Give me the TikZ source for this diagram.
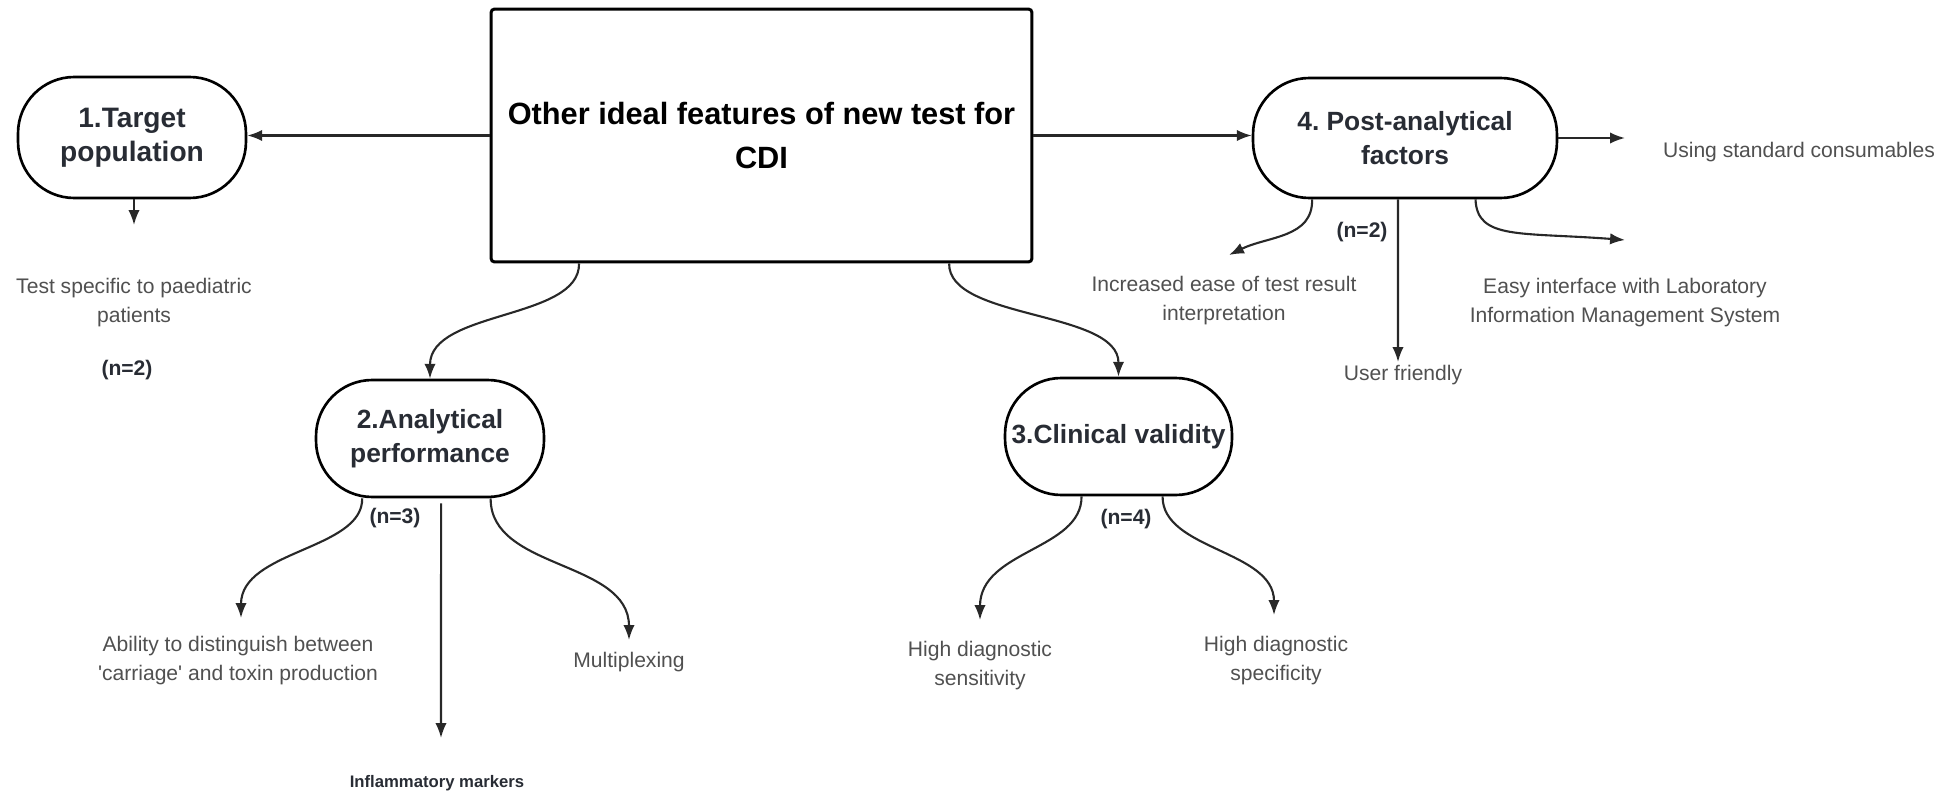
\documentclass[tikz,border=0pt]{standalone}
\usepackage{fontspec}
\setmainfont{Liberation Sans}
\usetikzlibrary{arrows.meta,calc}
\definecolor{LabelInk}{RGB}{40,44,52}
\definecolor{ItemGray}{RGB}{80,80,80}
\definecolor{WireInk}{RGB}{40,40,40}

\tikzset{
  catbox/.style={draw,line width=1.5pt,rounded corners=32pt,align=center,inner sep=0pt,
    text=LabelInk,font=\bfseries\fontsize{15}{19}\selectfont},
  item/.style={align=center,text=ItemGray,font=\fontsize{12}{16.5}\selectfont},
  count/.style={text=LabelInk,font=\bfseries\fontsize{12}{14}\selectfont},
  wire/.style={->,line width=1.2pt,WireInk},
}

\begin{document}
\begin{tikzpicture}[x=0.02cm,y=-0.02cm,>={Latex[length=8.5pt,width=6.5pt]}]
  \useasboundingbox (0,0) rectangle (1957,794);
  % centre
  \node[draw,line width=1.7pt,rounded corners=2pt,minimum width=10.82cm,minimum height=5.06cm,
    align=center,font=\bfseries\fontsize{17.5}{25}\selectfont] (c) at (761.5,135.5)
    {Other ideal features of new test for\\CDI};
  % the four groups
  \node[catbox,minimum width=4.56cm,minimum height=2.42cm,font=\bfseries\fontsize{16}{19.5}\selectfont] (t) at (132,137.5) {1.Target\\population};
  \node[catbox,minimum width=4.56cm,minimum height=2.34cm] (a) at (430,438.5) {2.Analytical\\performance};
  \node[catbox,minimum width=4.54cm,minimum height=2.34cm] (v) at (1118.5,436.5) {3.Clinical validity};
  \node[catbox,minimum width=6.08cm,minimum height=2.4cm] (p) at (1405,138) {4.\ Post-analytical\\factors};

  % items
  \node[item] (t1) at (134,302.5) {Test specific to paediatric\\patients};
  \node[count] (tn) at (127,370) {(n=2)};
  \node[item] (a1) at (238,661) {Ability to distinguish between\\\textquotesingle carriage\textquotesingle{} and toxin production};
  \node[item] (a3) at (629,662) {Multiplexing};
  \node[text=LabelInk,font=\bfseries\fontsize{9.5}{11}\selectfont] (a2) at (437,783) {Inflammatory markers};
  \node[count] (an) at (395,518) {(n=3)};
  \node[item] (v1) at (980,666) {High diagnostic\\sensitivity};
  \node[item] (v2) at (1276,661) {High diagnostic\\specificity};
  \node[count] (vn) at (1126,519) {(n=4)};
  \node[item] (p1) at (1224,301) {Increased ease of test result\\interpretation};
  \node[count] (pn) at (1362,232) {(n=2)};
  \node[item] (p2) at (1403,375) {User friendly};
  \node[item] (p3) at (1625,303) {Easy interface with Laboratory\\Information Management System};
  \node[item] (p4) at (1799,152) {Using standard consumables};

  % free ends
  \coordinate (tend) at (134,225);
  \coordinate (a1end) at (241,618);
  \coordinate (a2end) at (441,738);
  \coordinate (a3end) at (629,640);
  \coordinate (v1end) at (980,620);
  \coordinate (v2end) at (1274,615);
  \coordinate (p1end) at (1229,255);
  \coordinate (p2end) at (1398,362);
  \coordinate (p3end) at (1625,240);
  \coordinate (p4end) at (1625,138);

  % centre to groups
  \draw[wire] (c.west) -- (c.west -| t.east);
  \draw[wire] (c.east) -- (c.east -| p.west);
  \draw[wire] ($(c.south west)!0.1645!(c.south east)$) .. controls (580,320) and (430,310) .. (a.north);
  \draw[wire] ($(c.south west)!0.845!(c.south east)$) .. controls (948,320) and (1118.5,310) .. (v.north);

  % groups to items
  \draw[wire] (t.south -| tend) -- (tend);
  \draw[wire] ($(a.south west)!0.206!(a.south east)$) .. controls (363,550) and (241,550) .. (a1end);
  \draw[wire] ($(a.south west)!0.548!(a.south east)+(0,5)$) -- (a2end);
  \draw[wire] ($(a.south west)!0.763!(a.south east)$) .. controls (490,570) and (629,560) .. (a3end);
  \draw[wire] ($(v.south west)!0.339!(v.south east)$) .. controls (1082,550) and (980,550) .. (v1end);
  \draw[wire] ($(v.south west)!0.692!(v.south east)$) .. controls (1162,550) and (1274,550) .. (v2end);
  \draw[wire] ($(p.south west)!0.197!(p.south east)$) .. controls (1313,238) and (1268,236) .. (p1end);
  \draw[wire] ($(p.south west)!0.477!(p.south east)$) -- (p2end);
  \draw[wire] ($(p.south west)!0.730!(p.south east)$) .. controls (1477,240) and (1520,232) .. (p3end);
  \draw[wire] (p.east) -- (p4end);
\end{tikzpicture}
\end{document}
